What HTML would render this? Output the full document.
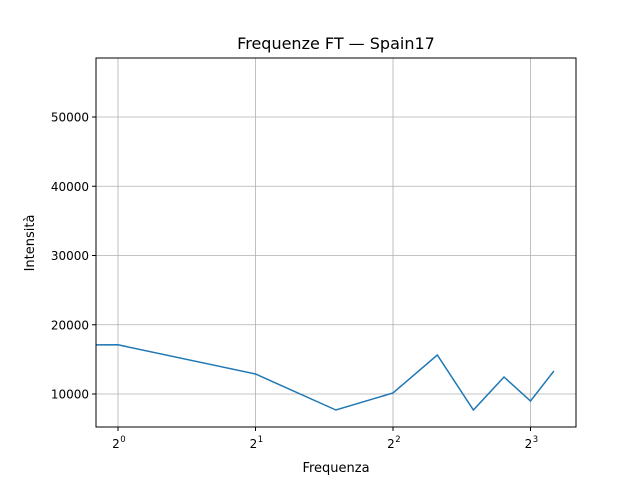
<!DOCTYPE html>
<html><head><meta charset="utf-8"><style>
body{margin:0;background:#fff;}
svg text{font-family:"DejaVu Sans","Liberation Sans",sans-serif;fill:#000;}
</style></head><body>
<svg id="chart" width="640" height="480" xmlns="http://www.w3.org/2000/svg">
<rect width="640" height="480" fill="#fff"/>
<text x="336" y="49" font-size="16" text-anchor="middle">Frequenze FT — Spain17</text>
<g id="grid"></g>
<g id="ticks"></g>
<g id="series"></g>
<rect x="96" y="58" width="480" height="369" fill="none" stroke="#000" stroke-width="1"/>
<text x="336" y="472" font-size="13" text-anchor="middle">Frequenza</text>
<text transform="translate(34,243) rotate(-90)" font-size="13" text-anchor="middle">Intensità</text>
</svg>
<script>
const freqs = [1,2,3,4,5,6,7,8,9];
const values = [17100,12890,7690,10140,15630,7690,12450,8990,13320];
const leadValue = 17100;
const xTickExps = [0,1,2,3];
const yTicks = [10000,20000,30000,40000,50000];

const L=96,R=576,T=58,B=427;
const xs = v => 118 + Math.log2(v)*137.5;
const ys = v => 394 - (v-10000)*0.006925;
const NS="http://www.w3.org/2000/svg";
function mk(tag,attrs,parent){const e=document.createElementNS(NS,tag);for(const k in attrs)e.setAttribute(k,attrs[k]);parent.appendChild(e);return e;}
const grid=document.getElementById('grid'),ticks=document.getElementById('ticks'),series=document.getElementById('series');
xTickExps.forEach(p=>{
  const x=xs(Math.pow(2,p));
  const g=mk('line',{x1:x,x2:x,y1:T,y2:B,stroke:'#b0b0b0','stroke-width':0.8},grid);
  
  
  mk('line',{x1:x,x2:x,y1:B,y2:B+4,stroke:'#000'},ticks);
  const t=mk('text',{x:x-2,y:B+21,'font-size':12,'text-anchor':'middle'},ticks);
  t.textContent='2';
  
  
  const s=mk('text',{x:x+5,y:B+15,'font-size':8.5,'text-anchor':'middle'},ticks);
  s.textContent=String(p);
});
yTicks.forEach(v=>{
  const y=ys(v);
  const g=mk('line',{x1:L,x2:R,y1:y,y2:y,stroke:'#b0b0b0','stroke-width':0.8},grid);
  
  
  mk('line',{x1:L-4,x2:L,y1:y,y2:y,stroke:'#000'},ticks);
  const t=mk('text',{x:L-7,y:y+4.5,'font-size':12,'text-anchor':'end'},ticks);
  t.textContent=String(v);
  
  
});
let d='M'+L+','+ys(leadValue);
freqs.forEach((f,i)=>{d+=' L'+xs(f).toFixed(1)+','+ys(values[i]).toFixed(1);});
const line=mk('path',{d:d,fill:'none',stroke:'#1f77b4','stroke-width':1.5},series);


</script>
</body></html>
